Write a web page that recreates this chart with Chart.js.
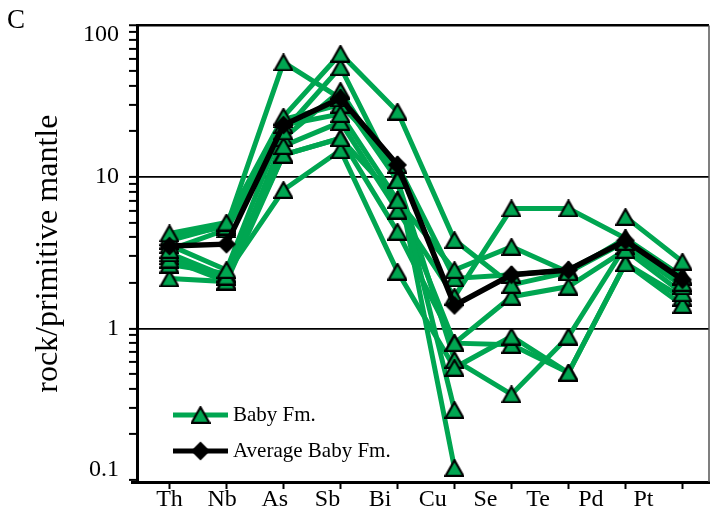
<!DOCTYPE html>
<html>
<head>
<meta charset="utf-8">
<script src="https://cdn.jsdelivr.net/npm/chart.js@4.4.1/dist/chart.umd.min.js"></script>
<style>
  html, body { margin: 0; padding: 0; background: #fff; }
  canvas { display: block; }
</style>
</head>
<body>
<canvas id="chart" width="720" height="520"></canvas>
<script>
// Element order along the x axis
const elements = ['Th', 'Nb', 'As', 'Sb', 'Bi', 'Cu', 'Se', 'Te', 'Pd', 'Pt'];

// Labelled decades on the y axis
const yMajorValues = [0.1, 1, 10, 100];
const yMajorLabels = ['0.1', '1', '10', '100'];

// Baby Fm. samples, normalised to primitive mantle (null = not determined)
const babyFm01 = [4.24, 5.0, 25, 65, 27, 3.83, 1.94, 2.35, 3.73, 2.0];
const babyFm02 = [4.0, 4.7, 57, 33, 9.5, 0.29, null, null, 5.45, 2.76];
const babyFm03 = [3.3, 4.5, 20, 53, 9.5, 0.12, null, null, null, null];
const babyFm04 = [3.55, 2.43, 22, 26, 7.0, 2.43, 3.46, 2.35, 3.93, 1.9];
const babyFm05 = [3.13, 2.2, 16, 23, 6.0, 1.62, 6.19, 6.19, 3.93, 2.2];
const babyFm06 = [2.85, 2.04, 14, 18, 4.35, 0.80, 1.62, 1.89, 3.3, 1.71];
const babyFm07 = [2.64, 2.3, 8.2, 15, 2.37, 0.55, 0.885, 0.51, 2.69, 1.43];
const babyFm08 = [2.14, 2.04, 18, 37, 9.5, 0.62, 0.367, 0.885, 3.5, 1.9];
const babyFm09 = [3.8, 4.8, 24, 30, 12, 2.14, 2.26, 2.43, 3.8, 2.2];
const babyFm10 = [3.0, 2.2, 14, 18, 7.0, 0.8, 0.78, 0.51, 2.69, 1.6];

// Mean of the formation
const averageBabyFm = [3.5, 3.6, 22, 33, 12, 1.42, 2.26, 2.43, 3.8, 2.1];

const samples = [babyFm01, babyFm02, babyFm03, babyFm04, babyFm05,
                 babyFm06, babyFm07, babyFm08, babyFm09, babyFm10];

const GREEN = '#00a651';
const SERIF = "'Liberation Serif', 'Times New Roman', serif";
const X_MIN = -0.57, X_MAX = 9.465;
const LABEL_STEP = 0.924;   // element names sit on a slightly tighter pitch than the ticks

// Triangle marker centred on its bounding box
function makeTriangle(w, h, fill) {
  const c = document.createElement('canvas');
  c.width = w; c.height = h;
  const g = c.getContext('2d');
  g.beginPath();
  g.moveTo(1.2, h - 1.2);
  g.lineTo(w / 2, 1.2);
  g.lineTo(w - 1.2, h - 1.2);
  g.closePath();
  g.fillStyle = fill;
  g.fill();
  g.lineWidth = 2.2;
  g.lineJoin = 'miter';
  g.strokeStyle = '#000';
  g.stroke();
  return c;
}
// Diamond marker
function makeDiamond(s) {
  const c = document.createElement('canvas');
  c.width = s; c.height = s;
  const g = c.getContext('2d');
  g.beginPath();
  g.moveTo(s / 2, 0.5);
  g.lineTo(s - 0.5, s / 2);
  g.lineTo(s / 2, s - 0.5);
  g.lineTo(0.5, s / 2);
  g.closePath();
  g.fillStyle = '#000';
  g.fill();
  return c;
}
const triangleMarker = makeTriangle(20, 18, GREEN);
const diamondMarker = makeDiamond(20);

const toPoints = vals => vals.map((v, i) => ({ x: i, y: v }));

const datasets = [];
// lines first (drawn underneath), markers afterwards
samples.forEach((vals, k) => datasets.push({
  label: k === 0 ? 'Baby Fm.' : '',
  data: toPoints(vals),
  borderColor: GREEN, borderWidth: 5,
  pointRadius: 0, spanGaps: false, tension: 0, order: 4
}));
datasets.push({
  label: 'Average Baby Fm.',
  data: toPoints(averageBabyFm),
  borderColor: '#000', borderWidth: 5.5,
  pointRadius: 0, tension: 0, order: 2
});
samples.forEach(vals => datasets.push({
  data: toPoints(vals), showLine: false,
  pointStyle: triangleMarker, pointRadius: 10,
  order: 3
}));
datasets.push({
  data: toPoints(averageBabyFm), showLine: false,
  pointStyle: diamondMarker, pointRadius: 10,
  order: 1
});

// legend inside the plot, panel letter, y labels and frame edges
const decorations = {
  id: 'decorations',
  afterDraw(chart) {
    const { ctx, chartArea } = chart;
    const yScale = chart.scales.y;
    ctx.save();
    // right edge of frame
    ctx.strokeStyle = '#555';
    ctx.lineWidth = 1.5;
    ctx.beginPath();
    ctx.moveTo(chartArea.right, chartArea.top);
    ctx.lineTo(chartArea.right, chartArea.bottom);
    ctx.stroke();
    // x axis runs a little past the y axis
    ctx.strokeStyle = '#000';
    ctx.lineWidth = 3;
    ctx.beginPath();
    ctx.moveTo(chartArea.left - 6, chartArea.bottom + 0.5);
    ctx.lineTo(chartArea.left, chartArea.bottom + 0.5);
    ctx.stroke();

    // panel letter
    ctx.fillStyle = '#000';
    ctx.font = '27px ' + SERIF;
    ctx.textBaseline = 'alphabetic';
    ctx.textAlign = 'left';
    ctx.fillText('C', 7, 28);

    // decade labels, kept inside the frame's height
    ctx.font = '24px ' + SERIF;
    ctx.textAlign = 'right';
    ctx.textBaseline = 'middle';
    yMajorValues.forEach((v, k) => {
      let py = yScale.getPixelForValue(v);
      py = Math.min(Math.max(py, chartArea.top + 9), chartArea.bottom - 12);
      ctx.fillText(yMajorLabels[k], chartArea.left - 18, py);
    });

    // legend
    const entries = [
      { text: datasets[0].label, line: GREEN, marker: triangleMarker },
      { text: datasets[samples.length].label, line: '#000', marker: diamondMarker }
    ];
    const x0 = chartArea.left + 36, y0 = chartArea.bottom - 67, rowH = 36, len = 55;
    entries.forEach((e, i) => {
      const y = y0 + i * rowH;
      ctx.strokeStyle = e.line;
      ctx.lineWidth = 5;
      ctx.beginPath();
      ctx.moveTo(x0, y);
      ctx.lineTo(x0 + len, y);
      ctx.stroke();
      ctx.drawImage(e.marker, x0 + len / 2 - e.marker.width / 2, y - e.marker.height / 2);
      ctx.fillStyle = '#000';
      ctx.font = '21px ' + SERIF;
      ctx.textAlign = 'left';
      ctx.textBaseline = 'middle';
      ctx.fillText(e.text, x0 + len + 5, y);
    });
    ctx.restore();
  }
};

new Chart(document.getElementById('chart'), {
  type: 'line',
  data: { datasets },
  options: {
    responsive: false,
    animation: false,
    events: [],
    layout: { padding: { top: 23, right: 2, left: 0, bottom: 0 } },
    plugins: { legend: { display: false }, tooltip: { enabled: false } },
    scales: {
      x: {
        type: 'linear', min: X_MIN, max: X_MAX, position: 'bottom',
        afterBuildTicks: s => { s.ticks = elements.map((_, i) => ({ value: i })); },
        ticks: { display: false },
        grid: { drawOnChartArea: false, drawTicks: true, tickLength: 7, color: '#000', tickColor: '#000', tickWidth: 2 },
        border: { display: true, color: '#000', width: 3 },
        afterFit: s => { s.height = 8; }
      },
      x2: {
        type: 'linear', min: X_MIN, max: X_MAX, position: 'bottom',
        afterBuildTicks: s => { s.ticks = elements.map((_, i) => ({ value: i * LABEL_STEP })); },
        ticks: {
          autoSkip: false, maxRotation: 0, padding: -5, color: '#000',
          font: { family: SERIF, size: 24 },
          callback: (v, i) => elements[i]
        },
        grid: { display: false, drawTicks: false },
        border: { display: false },
        afterFit: s => { s.height = 30; }
      },
      y: {
        type: 'logarithmic', min: 0.097, max: 100, position: 'left',
        afterBuildTicks: s => {
          const t = [];
          [0.1, 1, 10].forEach(d => {
            for (let m = 1; m <= 9; m++) t.push({ value: +(d * m).toPrecision(3) });
          });
          t.push({ value: 100 });
          s.ticks = t;
        },
        ticks: { autoSkip: false, padding: 11, color: '#000', font: { family: SERIF, size: 24 }, callback: () => '' },
        grid: {
          color: c => (c.tick && [1, 10, 100].includes(c.tick.value)) ? '#000' : 'rgba(0,0,0,0)',
          lineWidth: c => (c.tick && c.tick.value === 100) ? 2.5 : 1.8,
          tickColor: '#000', tickWidth: 2, tickLength: 8, drawTicks: true
        },
        border: { color: '#000', width: 3 },
        title: {
          display: true, text: 'rock/primitive mantle', color: '#000',
          font: { family: SERIF, size: 32 }, padding: { top: 29, bottom: 0 }
        },
        afterFit: s => { s.width = 137; }
      }
    }
  },
  plugins: [decorations]
});
</script>
</body>
</html>
